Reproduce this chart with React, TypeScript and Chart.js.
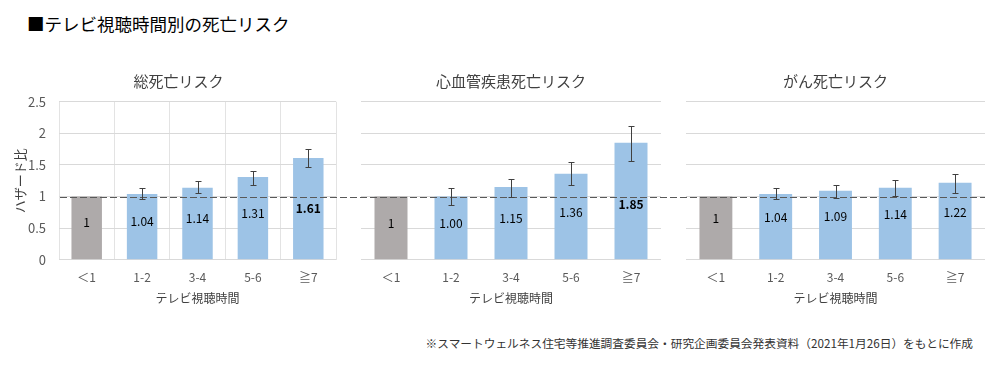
import React, { useEffect, useRef } from "react";
import { Chart, registerables } from "chart.js";

Chart.register(...registerables);

const FONT = '"Noto Sans CJK JP", "Noto Sans", sans-serif';
Chart.defaults.font.family = FONT;

// ---- data ----
const categories = ["＜1", "1-2", "3-4", "5-6", "≧7"];
const yMin = 0;
const yMax = 2.5;
const yStep = 0.5;
const referenceValue = 1;

const totalValues = [1, 1.04, 1.14, 1.31, 1.61];
const totalLabels = ["1", "1.04", "1.14", "1.31", "1.61"];
const totalLower = [null, 0.96, 1.05, 1.18, 1.47];
const totalUpper = [null, 1.13, 1.24, 1.4, 1.75];
const totalBold = [false, false, false, false, true];

const cvdValues = [1, 1.0, 1.15, 1.36, 1.85];
const cvdLabels = ["1", "1.00", "1.15", "1.36", "1.85"];
const cvdLower = [null, 0.87, 1.0, 1.18, 1.56];
const cvdUpper = [null, 1.14, 1.28, 1.54, 2.11];
const cvdBold = [false, false, false, false, true];

const cancerValues = [1, 1.04, 1.09, 1.14, 1.22];
const cancerLabels = ["1", "1.04", "1.09", "1.14", "1.22"];
const cancerLower = [null, 0.96, 0.98, 1.01, 1.05];
const cancerUpper = [null, 1.14, 1.18, 1.26, 1.35];
const cancerBold = [false, false, false, false, false];

const panelTitles = ["総死亡リスク", "心血管疾患死亡リスク", "がん死亡リスク"];
const xTitle = "テレビ視聴時間";
const yTitle = "ハザード比";
const mainTitle = "■テレビ視聴時間別の死亡リスク";
const footnote =
  "※スマートウェルネス住宅等推進調査委員会・研究企画委員会発表資料（2021年1月26日）をもとに作成";

// ---- styles ----
const GREY = "#AEAAAA";
const BLUE = "#9DC3E6";
const GRID = "#d9d9d9";
const TICK = "#595959";
const DASH_PERIOD = 10;

type PanelCfg = {
  left: number;
  width: number;
  title: string;
  values: number[];
  labels: string[];
  lower: (number | null)[];
  upper: (number | null)[];
  bold: boolean[];
  first: boolean;
  refFrom: "area" | "canvas";
  refTo: "area" | "canvas";
  padL: number;
  padR: number;
  labelShift: number;
  boldShift: number;
};

function makeOverlay(cfg: PanelCfg) {
  return {
    id: "overlay",
    afterDatasetsDraw(chart: any) {
      const { ctx, chartArea, scales } = chart;
      const y = scales.y;
      const meta = chart.getDatasetMeta(0);

      // reference dashed line
      const yRef = Math.round(y.getPixelForValue(referenceValue)) + 0.5;
      const x0 = cfg.refFrom === "area" ? chartArea.left : 0;
      const x1 = cfg.refTo === "area" ? chartArea.right : chart.width;
      ctx.save();
      ctx.strokeStyle = "#595959";
      ctx.lineWidth = 1;
      ctx.setLineDash([7, 3]);
      ctx.lineDashOffset = (cfg.left + x0) % DASH_PERIOD;
      ctx.beginPath();
      ctx.moveTo(x0, yRef);
      ctx.lineTo(x1, yRef);
      ctx.stroke();
      ctx.restore();

      // data labels
      ctx.save();
      ctx.textAlign = "center";
      ctx.textBaseline = "middle";
      ctx.fillStyle = "#000";
      meta.data.forEach((bar: any, i: number) => {
        const p = bar.getProps(["x", "y", "base"], true);
        const shift = cfg.bold[i] ? cfg.boldShift : cfg.labelShift;
        const cy = (p.y + p.base) / 2 + shift;
        ctx.font = `${cfg.bold[i] ? "bold " : ""}12px ${FONT}`;
        ctx.fillText(cfg.labels[i], p.x, cy);
      });
      ctx.restore();

      // error bars
      ctx.save();
      ctx.strokeStyle = "#404040";
      ctx.lineWidth = 1;
      meta.data.forEach((bar: any, i: number) => {
        const lo = cfg.lower[i];
        const hi = cfg.upper[i];
        if (lo == null || hi == null) return;
        const p = bar.getProps(["x"], true);
        const x = Math.round(p.x) + 0.5;
        const yl = Math.round(y.getPixelForValue(lo)) + 0.5;
        const yh = Math.round(y.getPixelForValue(hi)) + 0.5;
        ctx.beginPath();
        ctx.moveTo(x, yl);
        ctx.lineTo(x, yh);
        ctx.moveTo(x - 3, yl);
        ctx.lineTo(x + 3, yl);
        ctx.moveTo(x - 3, yh);
        ctx.lineTo(x + 3, yh);
        ctx.stroke();
      });
      ctx.restore();
    },
  };
}

function Panel({ cfg }: { cfg: PanelCfg }) {
  const ref = useRef<HTMLCanvasElement>(null);
  useEffect(() => {
    const scales: any = {
      x: {
        grid: {
          display: cfg.first,
          color: "#e3e3e3",
          drawTicks: false,
          offset: true,
        },
        border: { display: false },
        ticks: { color: TICK, font: { family: FONT, size: 12 }, padding: 10.2 },
        title: {
          display: true,
          text: xTitle,
          color: "#404040",
          font: { family: FONT, size: 12 },
          padding: { top: -3, bottom: 0 },
        },
      },
      y: {
        min: yMin,
        max: yMax,
        grid: { color: GRID, drawTicks: false },
        border: { display: false },
        ticks: {
          display: cfg.first,
          stepSize: yStep,
          padding: 13,
          color: TICK,
          font: { family: FONT, size: 13 },
          callback: (v: number) => String(v),
        },
        title: {
          display: cfg.first,
          text: yTitle,
          color: "#404040",
          font: { family: FONT, size: 13 },
          padding: { top: 12, bottom: 0 },
        },
        afterFit: (s: any) => {
          s.width = cfg.first ? 59 : 0;
        },
      },
    };
    if (cfg.first) {
      scales.yR = {
        position: "right",
        display: true,
        grid: { display: false, drawTicks: false },
        ticks: { display: false },
        border: { display: false },
        afterFit: (s: any) => {
          s.width = 21;
        },
      };
    }
    const chart = new Chart(ref.current!, {
      type: "bar",
      data: {
        labels: categories,
        datasets: [
          {
            data: cfg.values,
            backgroundColor: cfg.values.map((_, i) => (i === 0 ? GREY : BLUE)),
            borderWidth: 0,
            categoryPercentage: 1,
            barPercentage: 0.55,
          },
        ],
      },
      options: {
        responsive: false,
        animation: false,
        events: [],
        layout: { padding: { left: cfg.padL, right: cfg.padR, top: 0, bottom: 0 } },
        scales,
        plugins: {
          legend: { display: false },
          tooltip: { enabled: false },
          title: {
            display: true,
            text: cfg.title,
            color: "#404040",
            font: { family: FONT, size: 15, weight: "normal" },
            padding: { top: 12.7, bottom: 11 },
          },
        },
      } as any,
      plugins: [makeOverlay(cfg)],
    });
    return () => chart.destroy();
  }, []);
  return (
    <canvas
      ref={ref}
      width={cfg.width}
      height={246}
      style={{ position: "absolute", left: cfg.left, top: 60 }}
    />
  );
}

const panels: PanelCfg[] = [
  {
    left: 0,
    width: 357,
    title: panelTitles[0],
    values: totalValues,
    labels: totalLabels,
    lower: totalLower,
    upper: totalUpper,
    bold: totalBold,
    first: true,
    refFrom: "area",
    refTo: "canvas",
    padL: 0,
    padR: 0,
    labelShift: -5,
    boldShift: 0,
  },
  {
    left: 351,
    width: 320,
    title: panelTitles[1],
    values: cvdValues,
    labels: cvdLabels,
    lower: cvdLower,
    upper: cvdUpper,
    bold: cvdBold,
    first: false,
    refFrom: "canvas",
    refTo: "canvas",
    padL: 10,
    padR: 10,
    labelShift: -4.5,
    boldShift: 3,
  },
  {
    left: 666,
    width: 333,
    title: panelTitles[2],
    values: cancerValues,
    labels: cancerLabels,
    lower: cancerLower,
    upper: cancerUpper,
    bold: cancerBold,
    first: false,
    refFrom: "canvas",
    refTo: "area",
    padL: 20,
    padR: 14,
    labelShift: -9,
    boldShift: -9,
  },
];

export default function App() {
  return (
    <div
      style={{
        position: "fixed",
        left: 0,
        top: 0,
        width: 999,
        height: 368,
        background: "#fff",
        overflow: "hidden",
        fontFamily: FONT,
      }}
    >
      <div
        style={{
          position: "absolute",
          left: 27,
          top: 12,
          fontSize: 17.5,
          lineHeight: "24px",
          color: "#000",
          whiteSpace: "nowrap",
        }}
      >
        {mainTitle}
      </div>
      {panels.map((p, i) => (
        <Panel key={i} cfg={p} />
      ))}
      <div
        style={{
          position: "absolute",
          right: 26,
          top: 335,
          fontSize: 11.7,
          lineHeight: "16px",
          color: "#333",
          whiteSpace: "nowrap",
        }}
      >
        {footnote}
      </div>
    </div>
  );
}
